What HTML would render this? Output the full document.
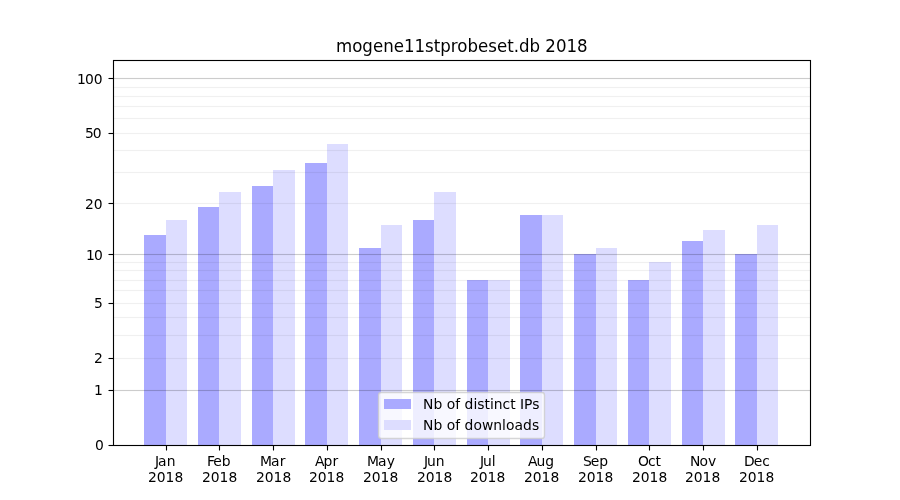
<!DOCTYPE html>
<html lang="en">
<head>
<meta charset="utf-8">
<title>mogene11stprobeset.db 2018</title>
<style>
html,body{margin:0;padding:0;background:#fff;}
body{width:900px;height:500px;overflow:hidden;}
svg{display:block;}
text{font-family:"DejaVu Sans","Liberation Sans",sans-serif;font-size:13.889px;fill:#000;}
.t{font-size:17.6px;}
</style>
</head>
<body>
<svg width="900" height="500" viewBox="0 0 900 500">
<rect width="900" height="500" fill="#fff"/>

<g shape-rendering="crispEdges">
<rect x="144" y="235" width="22" height="210" fill="#aaaaff"/>
<rect x="166" y="220" width="21" height="225" fill="#ddddff"/>
<rect x="198" y="207" width="21" height="238" fill="#aaaaff"/>
<rect x="219" y="192" width="22" height="253" fill="#ddddff"/>
<rect x="252" y="186" width="21" height="259" fill="#aaaaff"/>
<rect x="273" y="170" width="22" height="275" fill="#ddddff"/>
<rect x="305" y="163" width="22" height="282" fill="#aaaaff"/>
<rect x="327" y="144" width="21" height="301" fill="#ddddff"/>
<rect x="359" y="248" width="22" height="197" fill="#aaaaff"/>
<rect x="381" y="225" width="21" height="220" fill="#ddddff"/>
<rect x="413" y="220" width="21" height="225" fill="#aaaaff"/>
<rect x="434" y="192" width="22" height="253" fill="#ddddff"/>
<rect x="467" y="280" width="21" height="165" fill="#aaaaff"/>
<rect x="488" y="280" width="22" height="165" fill="#ddddff"/>
<rect x="520" y="215" width="22" height="230" fill="#aaaaff"/>
<rect x="542" y="215" width="21" height="230" fill="#ddddff"/>
<rect x="574" y="254" width="22" height="191" fill="#aaaaff"/>
<rect x="596" y="248" width="21" height="197" fill="#ddddff"/>
<rect x="628" y="280" width="21" height="165" fill="#aaaaff"/>
<rect x="649" y="262" width="22" height="183" fill="#ddddff"/>
<rect x="682" y="241" width="21" height="204" fill="#aaaaff"/>
<rect x="703" y="230" width="22" height="215" fill="#ddddff"/>
<rect x="735" y="254" width="22" height="191" fill="#aaaaff"/>
<rect x="757" y="225" width="21" height="220" fill="#ddddff"/>
</g>
<g fill="#000" fill-opacity="0.2">
<rect x="113" y="389.930" width="697.5" height="1.14"/>
<rect x="113" y="253.930" width="697.5" height="1.14"/>
<rect x="113" y="77.930" width="697.5" height="1.14"/>
</g><g fill="#000" fill-opacity="0.06">
<rect x="113" y="357.9300" width="697.5" height="1.14"/>
<rect x="113" y="334.9300" width="697.5" height="1.14"/>
<rect x="113" y="316.9300" width="697.5" height="1.14"/>
<rect x="113" y="302.9300" width="697.5" height="1.14"/>
<rect x="113" y="289.9300" width="697.5" height="1.14"/>
<rect x="113" y="279.9300" width="697.5" height="1.14"/>
<rect x="113" y="269.9300" width="697.5" height="1.14"/>
<rect x="113" y="261.9300" width="697.5" height="1.14"/>
<rect x="113" y="202.9300" width="697.5" height="1.14"/>
<rect x="113" y="171.9300" width="697.5" height="1.14"/>
<rect x="113" y="149.9300" width="697.5" height="1.14"/>
<rect x="113" y="132.9300" width="697.5" height="1.14"/>
<rect x="113" y="117.9300" width="697.5" height="1.14"/>
<rect x="113" y="105.9300" width="697.5" height="1.14"/>
<rect x="113" y="95.9300" width="697.5" height="1.14"/>
<rect x="113" y="86.9300" width="697.5" height="1.14"/>
</g>
<g stroke="#000" stroke-width="1.111" fill="none">
<path d="M166.5 445.5V450.5"/>
<path d="M219.5 445.5V450.5"/>
<path d="M273.5 445.5V450.5"/>
<path d="M327.5 445.5V450.5"/>
<path d="M381.5 445.5V450.5"/>
<path d="M434.5 445.5V450.5"/>
<path d="M488.5 445.5V450.5"/>
<path d="M542.5 445.5V450.5"/>
<path d="M596.5 445.5V450.5"/>
<path d="M649.5 445.5V450.5"/>
<path d="M703.5 445.5V450.5"/>
<path d="M757.5 445.5V450.5"/>
<path d="M108.5 445.5H113.5"/>
<path d="M108.5 390.5H113.5"/>
<path d="M108.5 358.5H113.5"/>
<path d="M108.5 303.5H113.5"/>
<path d="M108.5 254.5H113.5"/>
<path d="M108.5 203.5H113.5"/>
<path d="M108.5 133.5H113.5"/>
<path d="M108.5 78.5H113.5"/>
<rect x="113.5" y="60.5" width="697" height="385"/>
</g>
<rect x="378.55" y="392.46" width="165.95" height="45.99" rx="2.78" fill="#fff" fill-opacity="0.8" stroke="#ccc" stroke-opacity="0.8" stroke-width="1.389"/>
<rect x="384" y="399" width="27" height="10" fill="#aaaaff"/>
<rect x="384" y="420" width="27" height="10" fill="#ddddff"/>
<text x="423 433.375 442.25 446.625 455.125 460.125 464.5 473.375 477.25 484.375 489.875 493.75 502.5 510.125 515.625 520 524 532.125" y="408.56">Nb of distinct IPs</text>
<text x="423 433.375 442.25 446.625 455.125 460.125 464.5 473.375 481.875 493.25 502 505.875 514.375 523 531.875" y="429.5">Nb of downloads</text>
<text class="t" x="336" y="52" textLength="251.7" lengthAdjust="spacingAndGlyphs">mogene11stprobeset.db 2018</text>
<text x="155 158 166.625" y="465.6">Jan</text>
<text x="148 156.75 165.5 174.375" y="482.2">2018</text>
<text x="207 213.25 221.75" y="465.6">Feb</text>
<text x="202 210.75 219.5 228.375" y="482.2">2018</text>
<text x="260 271 279.625" y="465.6">Mar</text>
<text x="256 264.75 273.5 282.375" y="482.2">2018</text>
<text x="315 323.5 332.375" y="465.6">Apr</text>
<text x="309 317.75 326.5 335.375" y="482.2">2018</text>
<text x="367 378 386.625" y="465.6">May</text>
<text x="363 371.75 380.5 389.375" y="482.2">2018</text>
<text x="424 427 435.75" y="465.6">Jun</text>
<text x="417 425.75 434.5 443.375" y="482.2">2018</text>
<text x="480 483 491.75" y="465.6">Jul</text>
<text x="470 478.75 487.5 496.375" y="482.2">2018</text>
<text x="528 536.5 545.25" y="465.6">Aug</text>
<text x="524 532.75 541.5 550.375" y="482.2">2018</text>
<text x="583 590.75 599.25" y="465.6">Sep</text>
<text x="578 586.75 595.5 604.375" y="482.2">2018</text>
<text x="638 647.875 655.5" y="465.6">Oct</text>
<text x="632 640.75 649.5 658.375" y="482.2">2018</text>
<text x="690 699.375 707.875" y="465.6">Nov</text>
<text x="685 693.75 702.5 711.375" y="482.2">2018</text>
<text x="744 753.75 762.25" y="465.6">Dec</text>
<text x="739 747.75 756.5 765.375" y="482.2">2018</text>
<text x="95" y="450">0</text>
<text x="94" y="395">1</text>
<text x="94" y="363">2</text>
<text x="94" y="308">5</text>
<text x="86 93.875" y="260">10</text>
<text x="85 93.75" y="209">20</text>
<text x="85 92.75" y="138">50</text>
<text x="77 84.875 93.625" y="84">100</text>
</svg>
</body>
</html>
